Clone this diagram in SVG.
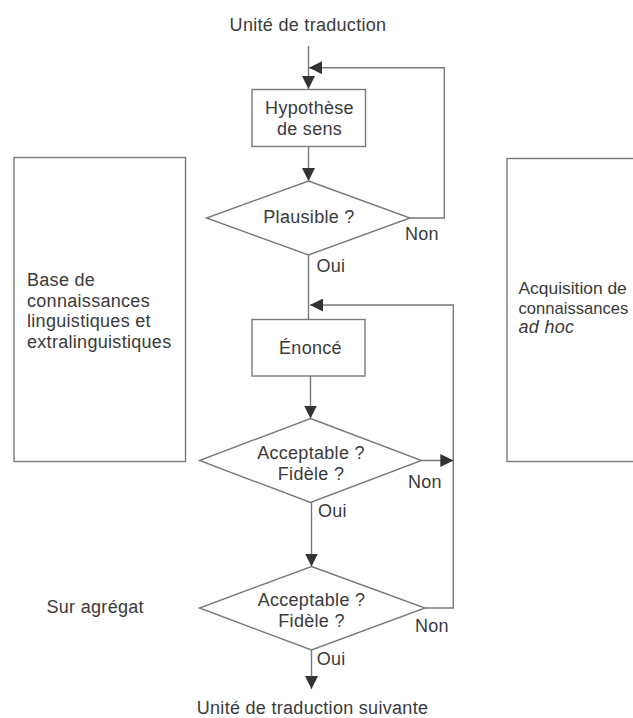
<svg xmlns="http://www.w3.org/2000/svg" width="633" height="718" viewBox="0 0 633 718">
<style>
text{font-family:"Liberation Sans",Arial,sans-serif;font-size:18px;fill:#3a3a3a;letter-spacing:0.3px}
.c{text-anchor:middle}
.shape{fill:#fff;stroke:#7a7a7a;stroke-width:1.4}
.ln{fill:none;stroke:#7a7a7a;stroke-width:1.4}
.i{font-style:italic}
.fit{letter-spacing:0}
</style>
<defs>
<marker id="ah" viewBox="0 0 13 13" refX="13" refY="6.5" markerWidth="13" markerHeight="13" markerUnits="userSpaceOnUse" orient="auto">
<path d="M0,0 L13,6.5 L0,13 Z" fill="#333"/>
</marker>
</defs>
<rect width="633" height="718" fill="#fff"/>

<g id="knowledge-base">
<rect class="shape" x="14" y="157.5" width="171.5" height="304"/>
<text x="27" y="286">Base de</text>
<text x="27" y="306.7">connaissances</text>
<text x="27" y="327.3">linguistiques et</text>
<text x="27" y="348">extralinguistiques</text>
</g>

<g id="acquisition">
<rect class="shape" x="507" y="158.5" width="140" height="303"/>
<text class="fit" x="518.5" y="293.5" style="font-size:17.4px">Acquisition de</text>
<text class="fit" x="518.5" y="313.5" style="font-size:16.6px">connaissances</text>
<text x="518.5" y="333" class="i">ad hoc</text>
</g>

<g id="start"><text class="c" x="308" y="31">Unité de traduction</text></g>

<g id="connectors">
<line class="ln" x1="308.5" y1="46" x2="308.5" y2="89" marker-end="url(#ah)"/>
<polyline class="ln" points="410,218 444.3,218 444.3,67.7 309,67.7" marker-end="url(#ah)"/>
<line class="ln" x1="308.5" y1="146.5" x2="308.5" y2="181" marker-end="url(#ah)"/>
<line class="ln" x1="308.5" y1="255" x2="308.5" y2="319.5"/>
<polyline class="ln" points="425,608 453.3,608 453.3,305 310,305" marker-end="url(#ah)"/>
<line class="ln" x1="421.5" y1="460.5" x2="453.3" y2="460.5" marker-end="url(#ah)"/>
<line class="ln" x1="310.5" y1="376" x2="310.5" y2="418.5" marker-end="url(#ah)"/>
<line class="ln" x1="311.5" y1="502.5" x2="311.5" y2="566.5" marker-end="url(#ah)"/>
<line class="ln" x1="311.5" y1="650" x2="311.5" y2="689" marker-end="url(#ah)"/>
</g>

<g id="hypothese">
<rect class="shape" x="252" y="89.5" width="113.5" height="57"/>
<text class="c" x="309.5" y="114.3">Hypothèse</text>
<text class="c" x="309.5" y="135">de sens</text>
</g>

<g id="plausible">
<polygon class="shape" points="308.5,181 410,218 308.5,255 206.5,218"/>
<text class="c" x="309" y="222.5">Plausible ?</text>
<text x="405" y="240">Non</text>
<text x="316.5" y="272">Oui</text>
</g>

<g id="enonce">
<rect class="shape" x="252" y="319.5" width="113" height="56.5"/>
<text class="c" x="310.5" y="354">Énoncé</text>
</g>

<g id="acceptable1">
<polygon class="shape" points="310.5,418.5 421.5,460.5 310.5,502.5 199.5,460.5"/>
<text class="c" x="311" y="459">Acceptable ?</text>
<text class="c" x="311" y="480">Fidèle ?</text>
<text x="408" y="488">Non</text>
<text x="318" y="517">Oui</text>
</g>

<g id="sur-agregat"><text x="46.5" y="612.5">Sur agrégat</text></g>

<g id="acceptable2">
<polygon class="shape" points="311.5,566.5 425,608 311.5,650 199.5,608"/>
<text class="c" x="311.5" y="606">Acceptable ?</text>
<text class="c" x="311.5" y="626.5">Fidèle ?</text>
<text x="415" y="632">Non</text>
<text x="316.7" y="665">Oui</text>
</g>

<g id="end"><text class="c" x="312.5" y="714">Unité de traduction suivante</text></g>
</svg>
